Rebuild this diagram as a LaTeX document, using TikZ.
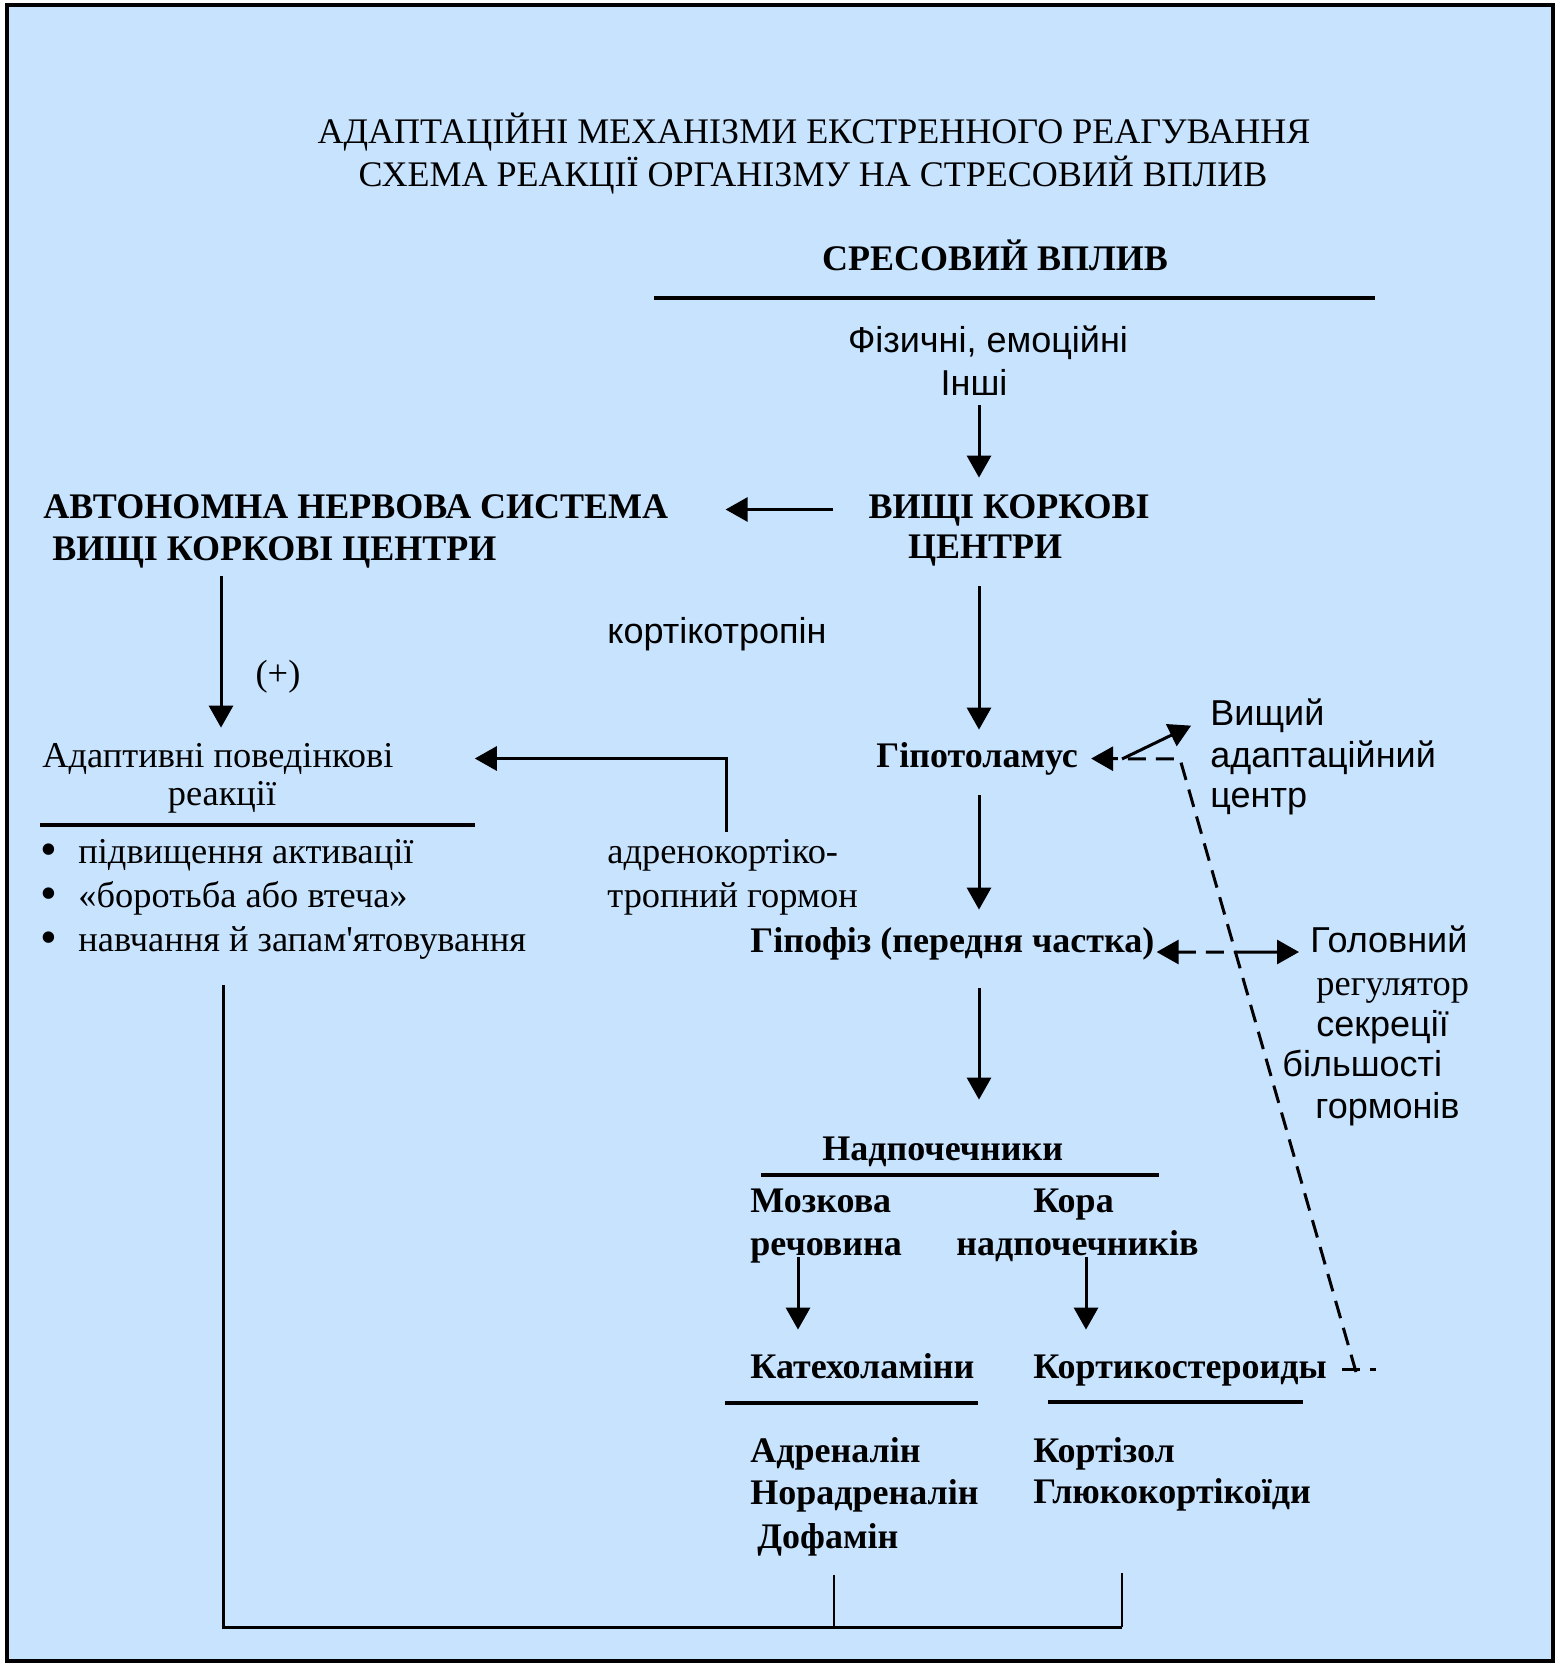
\documentclass[tikz,border=0pt]{standalone}
\usepackage{fontspec}
\setmainfont{Liberation Serif}
\setsansfont{Liberation Sans}
\newfontfamily\aposfont{Liberation Serif}
\usetikzlibrary{arrows.meta,positioning}
\definecolor{bgblue}{RGB}{200,227,254}

\begin{document}
\begin{tikzpicture}[x=0.5pt,y=-0.5pt]
	\tikzset{txt/.style={inner sep=0pt,anchor=base west,text height=12pt,text depth=3.5pt},
		ttl/.style={txt,anchor=base,font=\fontsize{18}{21}\selectfont},
		bigb/.style={txt,font=\bfseries\fontsize{18}{21}\selectfont},
		midb/.style={txt,font=\bfseries\fontsize{18}{21}\selectfont},
		plain/.style={txt,font=\fontsize{18.2}{21}\selectfont},
		sans/.style={txt,font=\sffamily\fontsize{18}{21}\selectfont},
		dot/.style={txt,anchor=base,font=\fontsize{24}{24}\selectfont},
		arr/.style={line width=1.5pt,-{Triangle[length=11pt,width=12pt]}},
		fbk/.style={line width=1.5pt,dash pattern=on 9pt off 5pt},
		rule/.style={line width=1.8pt}}
	\useasboundingbox (0,0) rectangle (1557,1665);
	\draw[line width=2.2pt,fill=bgblue] (7,5) rectangle (1553,1661);
	% columns for the vertical connectors
	\coordinate (spine) at (979,0);
	\coordinate (colL) at (221,0);
	\coordinate (colA) at (726,0);
	\coordinate (colM) at (798,0);
	\coordinate (colC) at (1086,0);
	\coordinate (colD) at (834,0);
	\coordinate (colR) at (1122,0);
	\coordinate (bot) at (223,1627);
	\coordinate (fbBot) at (1356,1372);
	\coordinate (fbTop) at (1180,759);
	\coordinate (hcross) at (1122,759);
	% title
	\node[ttl] (t1) at (814,143) {АДАПТАЦІЙНІ МЕХАНІЗМИ ЕКСТРЕННОГО РЕАГУВАННЯ};
	\node[ttl] (t2) at (813,186) {СХЕМА РЕАКЦІЇ ОРГАНІЗМУ НА СТРЕСОВИЙ ВПЛИВ};
	% right column
	\node[bigb,anchor=base] (stress) at (995,270) {СРЕСОВИЙ ВПЛИВ};
	\draw[rule] (654,298) -- (1375,298);
	\node[sans,anchor=base] (phys) at (988,352) {Фізичні, емоційні};
	\node[sans,anchor=base] (other) at (974,395) {Інші};
	\node[bigb,anchor=base] (cortexA) at (1009,518) {ВИЩІ КОРКОВІ};
	\node[bigb,anchor=base] (cortexB) at (985,558) {ЦЕНТРИ};
	\node[midb] (hypoth) at (876,767) {Гіпотоламус};
	\node[sans] (high1) at (1210,725) {Вищий};
	\node[sans] (high2) at (1210,767) {адаптаційний};
	\node[sans] (high3) at (1210,807) {центр};
	\node[midb] (pituit) at (750,952) {Гіпофіз (передня частка)};
	\node[sans] (headA) at (1310,952) {Головний};
	\node[plain] (headB) at (1316,995) {регулятор};
	\node[sans] (headC) at (1316,1036) {секреції};
	\node[sans] (headD) at (1282,1076) {більшості};
	\node[sans] (headE) at (1315,1118) {гормонів};
	\node[midb] (adrenal) at (822,1160) {Надпочечники};
	\draw[rule] (761,1175) -- (1159,1175);
	\node[midb] (medulla1) at (750,1212) {Мозкова};
	\node[midb] (medulla2) at (750,1255) {речовина};
	\node[midb] (cortex1) at (1033,1212) {Кора};
	\node[midb] (cortex2) at (956,1255) {надпочечників};
	\node[midb] (catechol) at (750,1378) {Катехоламіни};
	\node[midb] (corticost) at (1033,1378) {Кортикостероиды};
	\draw[rule] (725,1403) -- (978,1403);
	\draw[rule] (1048,1402) -- (1303,1402);
	\node[midb] (adren) at (750,1462) {Адреналін};
	\node[midb] (noradren) at (750,1504) {Норадреналін};
	\node[midb] (dofamin) at (757,1548) {Дофамін};
	\node[midb] (cortisol) at (1033,1462) {Кортізол};
	\node[midb] (gluco) at (1033,1503) {Глюкокортікоїди};
	% left column
	\node[bigb] (ans1) at (43,518) {АВТОНОМНА НЕРВОВА СИСТЕМА};
	\node[bigb] (ans2) at (52,560) {ВИЩІ КОРКОВІ ЦЕНТРИ};
	\node[plain,anchor=base] (plus) at (278,685) {(+)};
	\node[sans] (kort) at (607,643) {кортікотропін};
	\node[plain] (adaptA) at (42,767) {Адаптивні поведінкові};
	\node[plain,anchor=base] (adaptB) at (222,805) {реакції};
	\draw[rule] (40,825) -- (475,825);
	\node[dot] (b1) at (49,865) {•};
	\node[dot] (b2) at (49,909) {•};
	\node[dot] (b3) at (49,953) {•};
	\node[plain] (list1) at (78,863) {підвищення активації};
	\node[plain] (list2) at (78,907) {«боротьба або втеча»};
	\node[plain] (list3) at (78,951) {навчання й запам{\aposfont'}ятовування};
	\node[plain] (adrenoA) at (607,863) {адренокортіко-};
	\node[plain] (adrenoB) at (607,907) {тропний гормон};
	% arrows
	\draw[arr,shorten <=1.5pt,shorten >=8pt] (other.south -| spine) -- (cortexA.north -| spine);
	\draw[arr,shorten <=17.5pt,shorten >=28.5pt] (cortexA.west) -- (cortexA.west -| ans1.east);
	\draw[arr,shorten <=10.5pt,shorten >=6.5pt] (cortexB.south -| spine) -- (hypoth.north -| spine);
	\draw[arr,shorten <=10.5pt,shorten >=9pt] (hypoth.south -| spine) -- (pituit.north -| spine);
	\draw[arr,shorten <=14.5pt,shorten >=18pt] (pituit.south -| spine) -- (adrenal.north -| spine);
	\draw[arr,shorten <=-2.5pt,shorten >=12pt] (medulla2.south -| colM) -- (catechol.north -| colM);
	\draw[arr,shorten <=-2.5pt,shorten >=12pt] (cortex2.south -| colC) -- (corticost.north -| colC);
	\draw[arr,shorten <=4.5pt,shorten >=7.5pt] (ans2.south -| colL) -- (adaptA.north -| colL);
	\draw[arr,shorten <=3.5pt,shorten >=40.5pt] (adrenoA.north -| colA) |- (adaptA.east);
	\draw[arr,shorten >=10.5pt] (hcross) -- (high1.west);
	% feedback
	\draw[fbk,shorten <=7.5pt] (corticost.east) -- ++(49,0);
	\draw[fbk,-{Triangle[length=11pt,width=12pt]},shorten >=6.4pt] (fbBot) -- (fbTop) -- (hypoth.east);
	\coordinate (fbMid) at (intersection of fbTop--fbBot and pituit.base east--headA.base west);
	\draw[fbk,{Triangle[length=11pt,width=12pt]}-,shorten <=1pt] (pituit.base east) -- (fbMid);
	\draw[arr,shorten >=5.5pt] (fbMid) -- (headA.base west);
	% joining line at the bottom
	\draw[line width=1.5pt,shorten <=13.5pt] (list3.south -| bot) -- (bot) -- (bot -| colR);
	\draw[line width=1pt,shorten <=10pt] (dofamin.south -| colD) -- (bot -| colD);
	\draw[line width=1.2pt,shorten <=31.5pt] (gluco.south -| colR) -- (bot -| colR);
\end{tikzpicture}
\end{document}
